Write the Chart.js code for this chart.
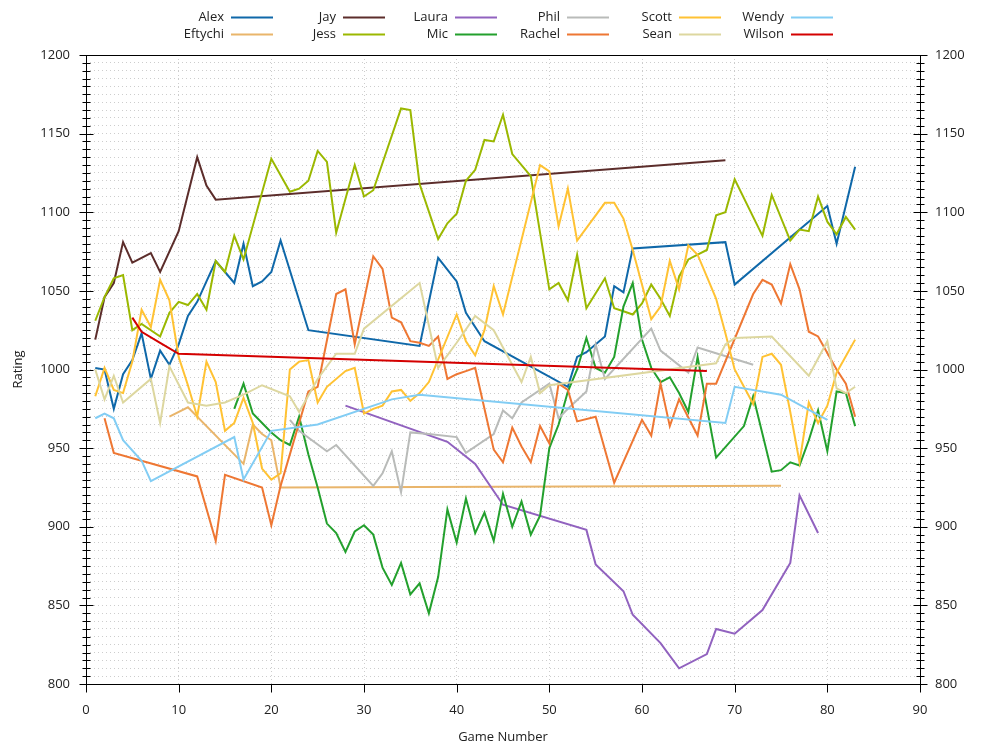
<!DOCTYPE html>
<html>
<head>
<meta charset="utf-8">
<script src="https://cdn.jsdelivr.net/npm/chart.js@4.4.1/dist/chart.umd.min.js"></script>
<style>
  html, body { margin: 0; padding: 0; background: #fff; }
  #wrap { width: 1000px; height: 750px; }
</style>
</head>
<body>
<div id="wrap"><canvas id="chart" width="1000" height="750"></canvas></div>
<script>
// Ratings per player, indexed by the game number they were recorded at
const alexGames = [1,2,3,4,5,6,7,8,9,10,11,12,13,14,15,16,17,18,19,20,21,24,36,38,40,41,43,52,53,54,56,57,58,59,69,70,80,81,83];
const alexRatings = [1001,1000,975,997,1006,1023,994,1012,1003,1016,1034,1043,1056,1069,1062,1055,1080,1053,1056,1062,1082,1025,1015,1071,1056,1036,1018,989,1008,1011,1021,1053,1049,1077,1081,1054,1104,1080,1129];

const eftychiGames = [9,11,17,18,19,20,21,75];
const eftychiRatings = [970,976,940,965,959,955,925,926];

const jayGames = [1,2,3,4,5,7,8,10,12,13,14,69];
const jayRatings = [1019,1046,1055,1081,1068,1074,1062,1088,1135,1117,1108,1133];

const jessGames = [1,2,3,4,5,6,8,9,10,11,12,13,14,15,16,17,20,22,23,24,25,26,27,29,30,31,34,35,36,38,39,40,41,42,43,44,45,46,48,50,51,52,53,54,56,57,58,59,60,61,62,63,64,65,66,67,68,69,70,73,74,76,77,78,79,80,81,82,83];
const jessRatings = [1031,1046,1058,1060,1025,1029,1021,1036,1043,1041,1048,1038,1069,1062,1085,1070,1134,1113,1115,1120,1139,1132,1087,1130,1110,1114,1166,1165,1118,1083,1093,1099,1120,1127,1146,1145,1162,1137,1123,1051,1055,1044,1073,1039,1058,1039,1037,1035,1042,1054,1045,1034,1059,1070,1073,1076,1098,1100,1121,1085,1111,1082,1089,1088,1110,1094,1086,1097,1089];

const lauraGames = [28,39,42,45,54,55,58,59,62,64,67,68,70,73,76,77,79];
const lauraRatings = [977,954,940,914,898,876,859,844,826,810,819,835,832,847,877,920,896];

const micGames = [16,17,18,20,21,22,23,24,25,26,27,28,29,30,31,32,33,34,35,36,37,38,39,40,41,42,43,44,45,46,47,48,49,50,51,52,53,54,55,56,57,58,59,60,61,62,63,64,65,66,68,71,72,74,75,76,77,78,79,80,81,82,83];
const micRatings = [975,991,972,960,955,952,970,946,925,902,896,884,897,901,895,874,863,877,857,864,845,868,911,890,918,896,909,891,921,900,916,895,907,950,965,986,1000,1020,1001,998,1008,1040,1055,1019,1001,992,995,985,973,1008,944,964,983,935,936,941,939,955,974,948,986,985,964];

const philGames = [22,23,26,27,31,32,33,34,35,37,40,41,44,45,46,47,50,51,52,54,55,56,61,62,65,66,72];
const philRatings = [968,961,948,952,926,934,948,922,960,959,957,947,959,974,969,979,991,969,975,986,1016,994,1026,1012,998,1014,1003];

const rachelGames = [2,3,12,14,15,19,20,21,24,25,27,28,29,31,32,33,34,35,36,37,38,39,40,41,42,43,44,45,46,47,48,49,50,51,52,53,55,57,60,61,62,63,64,66,67,68,72,73,74,75,76,77,78,79,81,82,83];
const rachelRatings = [969,947,932,891,933,925,901,926,986,989,1048,1051,1016,1072,1064,1033,1030,1018,1017,1015,1021,994,997,999,1001,975,949,941,963,951,941,964,953,991,987,967,970,928,968,958,991,964,981,958,991,991,1048,1057,1054,1042,1067,1051,1024,1021,1000,991,970];

const scottGames = [1,2,3,4,5,6,7,8,9,10,11,12,13,14,15,16,17,18,19,20,21,22,23,24,25,26,28,29,30,31,32,33,34,35,36,37,40,41,42,43,44,45,49,50,51,52,53,56,57,58,59,61,62,63,64,65,66,67,68,69,70,72,73,74,75,76,77,78,79,80,81,83];
const scottRatings = [983,1001,987,985,1005,1038,1027,1057,1044,1008,990,970,1005,992,961,966,982,966,937,930,934,1000,1005,1006,979,989,999,1001,972,975,977,986,987,980,985,992,1035,1018,1009,1025,1053,1035,1130,1126,1091,1115,1082,1106,1106,1096,1076,1032,1040,1069,1051,1079,1073,1059,1045,1023,1000,978,1008,1010,1003,973,941,979,966,977,998,1019];

const seanGames = [1,2,3,4,7,8,9,11,13,15,17,19,22,23,25,27,29,30,36,38,40,42,44,45,47,48,49,50,68,69,70,74,78,80,81,82,83];
const seanRatings = [1000,981,996,979,994,966,1002,979,977,979,984,990,983,973,994,1010,1010,1026,1055,1001,1017,1034,1025,1014,992,1008,985,990,1004,1016,1020,1021,996,1018,988,985,989];

const wendyGames = [1,2,3,4,6,7,16,17,20,25,33,36,69,70,75,80];
const wendyRatings = [969,972,969,955,942,929,957,930,961,965,981,984,966,989,984,968];

const wilsonGames = [5,6,8,10,67];
const wilsonRatings = [1033,1024,1017,1010,999];

const playerNames = ['Alex','Eftychi','Jay','Jess','Laura','Mic','Phil','Rachel','Scott','Sean','Wendy','Wilson'];
const playerColors = ['#0f68a9','#e9b56b','#5c2d2b','#9bb800','#9162bf','#23a02d','#b9bbb9','#ee7733','#ffc233','#ddd79f','#82cdf4','#d40000'];

const gameLists = [alexGames, eftychiGames, jayGames, jessGames, lauraGames, micGames, philGames, rachelGames, scottGames, seanGames, wendyGames, wilsonGames];
const ratingLists = [alexRatings, eftychiRatings, jayRatings, jessRatings, lauraRatings, micRatings, philRatings, rachelRatings, scottRatings, seanRatings, wendyRatings, wilsonRatings];

const FONT = "'Open Sans', sans-serif";
Chart.defaults.font.family = FONT;
Chart.defaults.font.size = 13;
Chart.defaults.color = '#222';

// gnuplot-like frame with tick marks crossing the y axes and outward on x
const framePlugin = {
  id: 'frame',
  afterDraw(chart) {
    const { ctx, chartArea: a, scales } = chart;
    const L = Math.round(a.left) + 0.5, R = Math.round(a.right) + 0.5;
    const T = Math.round(a.top) + 0.5, B = Math.round(a.bottom) + 0.5;
    ctx.save();
    ctx.strokeStyle = '#000';
    ctx.lineWidth = 1;
    ctx.strokeRect(L, T, R - L, B - T);
    ctx.beginPath();
    scales.y.ticks.forEach(t => {
      const py = Math.round(scales.y.getPixelForValue(t.value)) + 0.5;
      const len = t.value % 50 === 0 ? 7 : 4;
      ctx.moveTo(L - len, py); ctx.lineTo(L + len, py);
      ctx.moveTo(R - len, py); ctx.lineTo(R + len, py);
    });
    scales.x.ticks.forEach(t => {
      const px = Math.round(scales.x.getPixelForValue(t.value)) + 0.5;
      ctx.moveTo(px, B); ctx.lineTo(px, B + 8);
    });
    ctx.stroke();
    ctx.restore();
  }
};

// two-row legend, filled column by column
const legendPlugin = {
  id: 'twoRowLegend',
  afterDraw(chart) {
    const ctx = chart.ctx;
    ctx.save();
    ctx.font = '13px ' + FONT;
    ctx.textAlign = 'right';
    ctx.textBaseline = 'middle';
    chart.data.datasets.forEach((ds, i) => {
      const col = Math.floor(i / 2), row = i % 2;
      const x = 231 + col * 112;
      const y = 17.5 + row * 17;
      ctx.fillStyle = '#222';
      ctx.fillText(ds.label, x - 7, y);
      ctx.strokeStyle = ds.borderColor;
      ctx.lineWidth = 2;
      ctx.beginPath();
      ctx.moveTo(x, y); ctx.lineTo(x + 42, y);
      ctx.stroke();
    });
    ctx.restore();
  }
};

const datasets = playerNames.map((name, i) => ({
  label: name,
  data: gameLists[i].map((g, k) => ({ x: g, y: ratingLists[i][k] })),
  borderColor: playerColors[i],
  backgroundColor: playerColors[i],
  borderWidth: 2,
  pointRadius: 0,
  tension: 0,
  fill: false,
  order: playerNames.length - i
}));

const yTicks = {
  stepSize: 5,
  autoSkip: false,
  callback: v => (v % 50 === 0 ? v : '')
};

new Chart(document.getElementById('chart'), {
  type: 'line',
  data: { datasets },
  options: {
    responsive: false,
    animation: false,
    events: [],
    layout: { padding: { top: 55, left: 0, right: 0, bottom: 0 } },
    plugins: { legend: { display: false }, tooltip: { enabled: false } },
    scales: {
      x: {
        type: 'linear',
        min: 0, max: 90,
        ticks: { stepSize: 10, padding: 18 },
        grid: { color: '#cdcdcd', drawTicks: false },
        border: { display: false, dash: [1, 3] },
        title: { display: true, text: 'Game Number', padding: { top: 0, bottom: 5 } },
        afterFit: s => { s.height = 66; }
      },
      y: {
        position: 'left',
        min: 800, max: 1200,
        ticks: { ...yTicks, padding: 16 },
        grid: { color: '#cdcdcd', drawTicks: false },
        border: { display: false, dash: [1, 3] },
        title: { display: true, text: 'Rating', padding: { top: 10 } },
        afterFit: s => { s.width = 86; }
      },
      y2: {
        position: 'right',
        min: 800, max: 1200,
        ticks: { ...yTicks, padding: 15 },
        grid: { display: false, drawTicks: false },
        border: { display: false },
        afterFit: s => { s.width = 80; }
      }
    }
  },
  plugins: [framePlugin, legendPlugin]
});
</script>
</body>
</html>
